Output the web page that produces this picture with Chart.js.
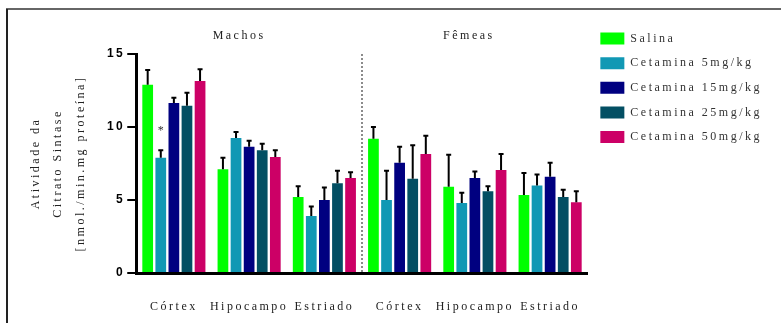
<!DOCTYPE html>
<html>
<head>
<meta charset="utf-8">
<script src="https://cdn.jsdelivr.net/npm/chart.js@4/dist/chart.umd.min.js"></script>
<style>
  html, body { margin: 0; padding: 0; background: #fff; }
  canvas { display: block; }
</style>
</head>
<body>
<canvas id="chart" width="781" height="323"></canvas>
<script>
// -------- Dados --------
const regioes = ["Córtex", "Hipocampo", "Estriado", "Córtex", "Hipocampo", "Estriado"];
const grupos = ["Machos", "Fêmeas"];
const tratamentos = ["Salina", "Cetamina 5mg/kg", "Cetamina 15mg/kg", "Cetamina 25mg/kg", "Cetamina 50mg/kg"];
const yTicks = [0, 5, 10, 15];

const salina = [12.9, 7.1, 5.2, 9.2, 5.9, 5.35];
const salinaErr = [1.0, 0.8, 0.75, 0.8, 2.2, 1.5];
const cet5 = [7.9, 9.25, 3.9, 5.0, 4.8, 6.0];
const cet5Err = [0.5, 0.4, 0.65, 2.0, 0.7, 0.75];
const cet15 = [11.65, 8.65, 5.0, 7.55, 6.5, 6.6];
const cet15Err = [0.35, 0.4, 0.85, 1.1, 0.45, 0.95];
const cet25 = [11.45, 8.4, 6.15, 6.45, 5.6, 5.2];
const cet25Err = [0.9, 0.45, 0.85, 2.3, 0.35, 0.5];
const cet50 = [13.15, 7.95, 6.5, 8.15, 7.05, 4.85];
const cet50Err = [0.8, 0.45, 0.4, 1.25, 1.1, 0.75];

const cores = ["#00ff00", "#1198b4", "#000080", "#034f63", "#cc0066"];
const valores = [salina, cet5, cet15, cet25, cet50];
const erros = [salinaErr, cet5Err, cet15Err, cet25Err, cet50Err];

const SERIF = "'Liberation Serif', 'Times New Roman', serif";
const SPACING = "2.5px";

// -------- Plugin: moldura, barras de erro, separador, títulos --------
const extras = {
    id: "extras",
    beforeLayout(chart) { chart.ctx.letterSpacing = SPACING; },
    beforeDraw(chart) {
        const ctx = chart.ctx;
        ctx.save();
        ctx.fillStyle = "#fff";
        ctx.fillRect(0, 0, chart.width, chart.height);
        ctx.lineWidth = 2;
        ctx.strokeStyle = "#666";
        ctx.beginPath(); ctx.moveTo(6, 9); ctx.lineTo(chart.width, 9); ctx.stroke();
        ctx.strokeStyle = "#222";
        ctx.beginPath(); ctx.moveTo(7, 9); ctx.lineTo(7, chart.height); ctx.stroke();
        ctx.restore();
        ctx.letterSpacing = SPACING;
    },
    afterDatasetsDraw(chart) {
        const ctx = chart.ctx;
        const x = chart.scales.x, y = chart.scales.y;
        const area = chart.chartArea;
        ctx.save();

        // barras de erro (só para cima)
        ctx.strokeStyle = "#000";
        ctx.lineWidth = 2;
        chart.data.datasets.forEach((ds, i) => {
            const meta = chart.getDatasetMeta(i);
            meta.data.forEach((bar, j) => {
                const top = y.getPixelForValue(ds.data[j] + ds.erros[j]);
                ctx.beginPath();
                ctx.moveTo(bar.x, bar.y);
                ctx.lineTo(bar.x, top);
                ctx.moveTo(bar.x - 2.5, top);
                ctx.lineTo(bar.x + 2.5, top);
                ctx.stroke();
            });
        });

        // asterisco (Cetamina 5mg/kg, Córtex machos)
        const b = chart.getDatasetMeta(1).data[0];
        const yAst = y.getPixelForValue(cet5[0] + cet5Err[0]) - 20;
        ctx.fillStyle = "#333";
        ctx.font = "12px " + SERIF;
        ctx.textAlign = "center";
        ctx.textBaseline = "middle";
        ctx.letterSpacing = "0px";
        ctx.fillText("*", b.x, yAst);

        // linha tracejada entre machos e fêmeas
        const xs = (x.getPixelForValue(2) + x.getPixelForValue(3)) / 2;
        ctx.strokeStyle = "#666";
        ctx.lineWidth = 1.5;
        ctx.setLineDash([2, 2]);
        ctx.beginPath();
        ctx.moveTo(xs, area.top);
        ctx.lineTo(xs, area.bottom);
        ctx.stroke();
        ctx.setLineDash([]);

        // títulos dos grupos
        ctx.letterSpacing = SPACING;
        ctx.fillStyle = "#222";
        ctx.fillText(grupos[0], x.getPixelForValue(1) - 10, area.top - 18);
        ctx.fillText(grupos[1], x.getPixelForValue(4) - 6, area.top - 18);
        ctx.restore();
        ctx.letterSpacing = SPACING;
    }
};

// -------- Gráfico --------
new Chart(document.getElementById("chart"), {
    type: "bar",
    data: {
        labels: regioes,
        datasets: tratamentos.map((t, i) => ({
            label: t,
            data: valores[i],
            erros: erros[i],
            backgroundColor: cores[i],
            borderWidth: 0
        }))
    },
    options: {
        responsive: false,
        animation: false,
        layout: { padding: { left: 24, right: 9, top: 20, bottom: 10 } },
        datasets: { bar: { categoryPercentage: 0.87, barPercentage: 0.82 } },
        plugins: {
            legend: {
                position: "right",
                align: "start",
                labels: {
                    boxWidth: 24, boxHeight: 12, padding: 12.6,
                    color: "#333",
                    font: { family: SERIF, size: 12 }
                }
            },
            title: {
                display: true, text: "", fullSize: false,
                font: { size: 10, lineHeight: 1 },
                padding: { top: 24, bottom: 0 }
            },
            tooltip: { enabled: false }
        },
        scales: {
            x: {
                afterFit: (scale) => { scale.height = 40; },
                grid: { display: true, drawOnChartArea: false, drawTicks: false },
                border: { color: "#000", width: 3 },
                ticks: {
                    padding: 27, color: "#222", autoSkip: false, maxRotation: 0,
                    font: { family: SERIF, size: 12 }
                }
            },
            y: {
                min: 0, max: 15,
                afterBuildTicks: (scale) => { scale.ticks = yTicks.map(v => ({ value: v })); },
                grid: { drawOnChartArea: false, tickLength: 9, color: "#000", lineWidth: 2 },
                border: { color: "#000", width: 3 },
                ticks: {
                    padding: 2, color: "#000",
                    font: { family: "'Liberation Sans', Arial, sans-serif", size: 12, weight: "bold" }
                },
                title: {
                    display: true,
                    text: ["Atividade da", "Citrato Sintase", "[nmol./min.mg proteína]"],
                    color: "#222",
                    font: { family: SERIF, size: 12, lineHeight: 1.9 },
                    padding: { top: 0, bottom: 12.5 }
                }
            }
        }
    },
    plugins: [extras]
});
</script>
</body>
</html>
